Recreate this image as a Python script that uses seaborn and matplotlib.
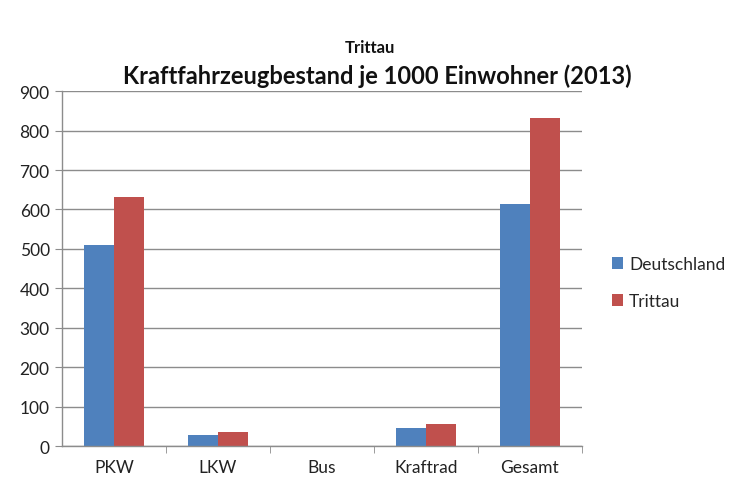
import matplotlib
matplotlib.use("Agg")
import matplotlib.pyplot as plt
import seaborn as sns
import pandas as pd
from matplotlib.patches import Patch

categories = ["PKW", "LKW", "Bus", "Kraftrad", "Gesamt"]
deutschland = [510, 28, 0, 45, 613]
trittau = [631, 36, 0, 55, 833]
series_names = ["Deutschland", "Trittau"]
colors = ["#4F81BD", "#C0504D"]
yticks = [0, 100, 200, 300, 400, 500, 600, 700, 800, 900]

df = pd.DataFrame({
    "Kategorie": categories * 2,
    "Wert": deutschland + trittau,
    "Serie": [series_names[0]] * len(categories) + [series_names[1]] * len(categories),
})

sns.set_style("white")
plt.rcParams["font.family"] = ["Lato", "DejaVu Sans"]

fig = plt.figure(figsize=(7.4, 4.85), dpi=100)
ax = fig.add_axes([0.084, 0.078, 0.702, 0.732])

sns.barplot(data=df, x="Kategorie", y="Wert", hue="Serie", palette=colors,
            width=0.58, ax=ax, legend=False, saturation=1, linewidth=0, edgecolor="none")

ax.set_ylim(0, 900)
ax.set_xlim(-0.5, 4.5)
ax.set_yticks(yticks)
ax.set_yticklabels([str(v) for v in yticks], fontsize=12.5, color="#222222")
ax.set_xticks(range(len(categories)))
ax.set_xticklabels(categories, fontsize=12.5, color="#222222")
ax.set_xlabel("")
ax.set_ylabel("")
ax.yaxis.grid(True, color="#8c8c8c", linewidth=1.0)
ax.set_axisbelow(True)

for s in ["top", "right"]:
    ax.spines[s].set_visible(False)
for s in ["left", "bottom"]:
    ax.spines[s].set_color("#8c8c8c")
    ax.spines[s].set_linewidth(1.0)

ax.tick_params(axis="y", length=5, color="#8c8c8c", direction="out", left=True, pad=4)
ax.tick_params(axis="x", length=0, pad=9)
ax.set_xticks([i + 0.5 for i in range(len(categories))], minor=True)
ax.tick_params(axis="x", which="minor", length=5, color="#8c8c8c", direction="out", bottom=True)

handles = [Patch(facecolor=c, edgecolor="none") for c in colors]
fig.legend(handles, series_names, loc="center left", bbox_to_anchor=(0.822, 0.415),
           frameon=False, fontsize=12.5, handlelength=0.65, handleheight=0.65,
           handletextpad=0.35, labelspacing=1.2, borderaxespad=0, borderpad=0.2)

fig.text(0.5, 0.902, "Trittau", ha="center", va="center", fontsize=12, fontweight="bold", color="#111111")
fig.text(0.51, 0.843, "Kraftfahrzeugbestand je 1000 Einwohner (2013)", ha="center", va="center",
         fontsize=17, fontweight="bold", color="#111111")

fig.savefig("out.png", dpi=100, facecolor="white")
